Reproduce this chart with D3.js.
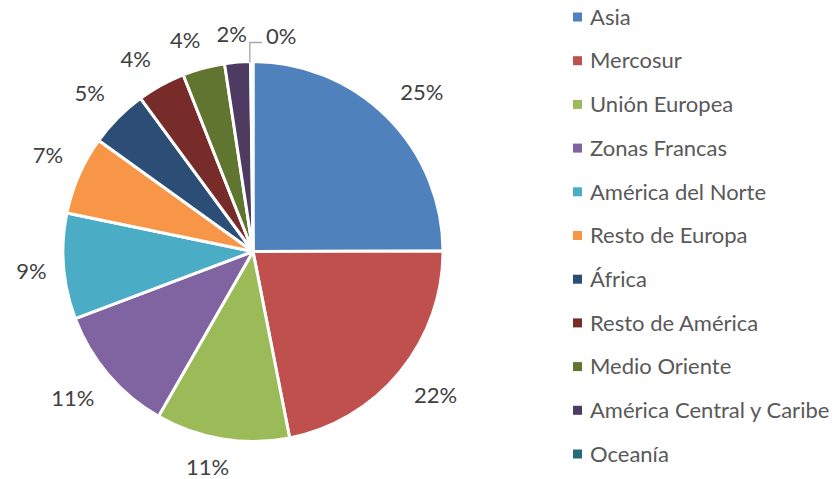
<!DOCTYPE html>
<html>
<head>
<meta charset="utf-8">
<script src="https://cdn.jsdelivr.net/npm/d3@7"></script>
<style>
  body { margin: 0; background: #fff; }
  text { font-family: Lato, "Open Sans", sans-serif; }
</style>
</head>
<body>
<div id="chart"></div>
<script>
// regions in display order (clockwise from 12 o'clock)
let regions = [
	'Asia', 'Mercosur', 'Unión Europea', 'Zonas Francas', 'América del Norte',
	'Resto de Europa', 'África', 'Resto de América', 'Medio Oriente',
	'América Central y Caribe', 'Oceanía'
];

// share of total, percent
let shares = [25.0, 22.0, 11.4, 11.0, 9.0, 6.7, 5.0, 4.1, 3.6, 2.2, 0.2];

// printed labels
let labels = ['25%', '22%', '11%', '11%', '9%', '7%', '5%', '4%', '4%', '2%', '0%'];

let colors = [
	'#4F81BD', '#C0504D', '#9BBB59', '#8064A2', '#4BACC6', '#F79646',
	'#2C4D75', '#772C2A', '#5F7530', '#4D3B62', '#276A7C'
];

let width = 833;
let height = 479;
let cx = 253, cy = 251.5, radius = 190;
let fontSize = '22px';

let data = regions.map((r, i) => ({name: r, value: shares[i], label: labels[i]}));

let colorScale = d3.scaleOrdinal().domain(regions).range(colors);

let pie = d3.pie().sort(null).value(d => d.value);
let arc = d3.arc().innerRadius(0).outerRadius(radius);
let arcs = pie(data);

let svg = d3.select('#chart').append('svg')
		.attr('width', width)
		.attr('height', height);

let g = svg.append('g').attr('transform', 'translate(' + cx + ',' + cy + ')');

g.selectAll('.slice')
		.data(arcs)
		.enter()
		.append('path')
		.classed('slice', true)
		.attr('d', arc)
		.style('fill', d => colorScale(d.data.name))
		.style('stroke', '#fff')
		.style('stroke-width', 3)
		.style('stroke-linejoin', 'round');

let clamp = v => Math.max(-1, Math.min(1, v));

// data labels: box pushed outward from an anchor just outside the rim
let labelG = g.append('g');
arcs.forEach(function(d) {
	let mid = (d.startAngle + d.endAngle) / 2;
	let s = Math.sin(mid), c = Math.cos(mid);
	if (d.data.name === 'Oceanía') {
		// tiny slice: leader line up from the rim
		let x0 = radius * s, y0 = -radius * c;
		labelG.append('polyline')
				.attr('points', [[x0 - 2, y0 + 1], [x0 - 2, -209], [9, -209]].map(p => p.join(',')).join(' '))
				.style('fill', 'none')
				.style('stroke', '#A6A6A6')
				.style('stroke-width', 1.3);
		labelG.append('text')
				.attr('x', 13)
				.attr('y', -215)
				.attr('dy', '0.35em')
				.style('font-size', fontSize)
				.style('fill', '#404040')
				.text(d.data.label);
		return;
	}
	let t = labelG.append('text')
			.attr('dy', '0.35em')
			.attr('text-anchor', 'middle')
			.style('font-size', fontSize)
			.style('fill', '#404040')
			.text(d.data.label);
	let r = 203;
	let hw = t.node().getComputedTextLength() / 2 + 4;
	let hh = 15;
	t.attr('x', r * s + clamp(3 * s) * hw)
		.attr('y', -r * c - clamp(3 * c) * hh);
});

// legend
let legendY = d3.scalePoint().domain(regions).range([17, 454]);
let legend = svg.append('g').selectAll('.legend')
		.data(regions)
		.enter()
		.append('g')
		.classed('legend', true)
		.attr('transform', d => 'translate(573,' + legendY(d) + ')');

legend.append('rect')
		.attr('x', 0)
		.attr('y', -4.5)
		.attr('width', 9)
		.attr('height', 9)
		.style('fill', d => colorScale(d));

legend.append('text')
		.attr('x', 17)
		.attr('y', 0)
		.attr('dy', '0.35em')
		.style('font-size', fontSize)
		.style('fill', '#595959')
		.text(d => d);
</script>
</body>
</html>
